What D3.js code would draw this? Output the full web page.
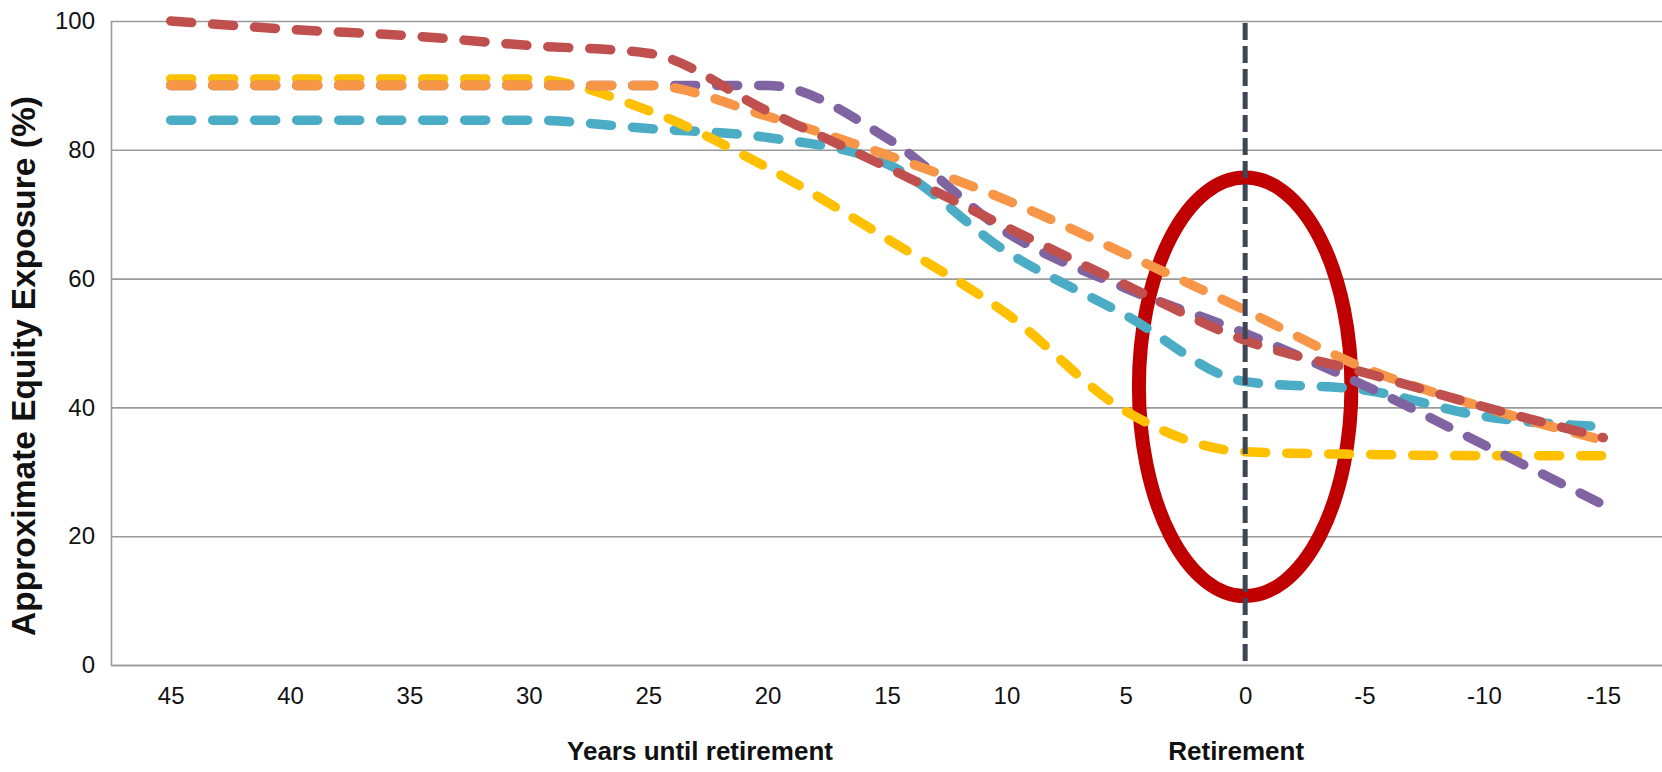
<!DOCTYPE html>
<html>
<head>
<meta charset="utf-8">
<script src="https://cdn.jsdelivr.net/npm/d3@7"></script>
<style>
  body { margin: 0; background: #fff; }
  svg { display: block; font-family: "Liberation Sans", Arial, sans-serif; }
</style>
</head>
<body>
<div class="graph"></div>
<script>
/*---------- DATA ----------*/

//years until retirement (category axis)
const years = ["45", "40", "35", "30", "25", "20", "15", "10", "5", "0", "-5", "-10", "-15"];

//approximate equity exposure (%) per glide path
const tealVals   = [84.6, 84.6, 84.6, 84.6, 83.3, 81.9, 77.8, 64.2, 54.3, 44.0, 42.7, 38.6, 37.0];
const yellowVals = [91.0, 91.0, 91.0, 91.0, 86.1, 77.2, 66.2, 54.6, 39.4, 33.1, 32.7, 32.5, 32.5];
const purpleVals = [90.0, 90.0, 90.0, 90.0, 90.0, 90.0, 81.8, 67.2, 58.5, 51.5, 43.4, 34.2, 24.9];
const orangeVals = [90.0, 90.0, 90.0, 90.0, 90.0, 85.2, 79.2, 72.2, 63.8, 55.1, 46.1, 40.0, 34.9];
const redVals    = [100.0, 98.7, 97.7, 96.2, 95.0, 86.0, 77.3, 68.0, 59.0, 50.4, 45.4, 40.1, 35.3];

const yTicks = [0, 20, 40, 60, 80, 100];

//drawing order: last one ends on top
const seriesList = [
    {name: "teal",   color: "#4BACC6", values: tealVals},
    {name: "yellow", color: "#FFC000", values: yellowVals},
    {name: "purple", color: "#8064A2", values: purpleVals},
    {name: "orange", color: "#F79646", values: orangeVals},
    {name: "red",    color: "#C0504D", values: redVals}
];

//retirement marker and highlight ellipse (in data units)
const retireYear = "0";
const ellipse = {center: 43.2, halfHeight: 32.5, halfWidthSteps: 0.89};

/*---------- D3 STUFF ----------*/

const SIZE = {X: 1662, Y: 772};
const MARGIN = {TOP: 21, BOTTOM: 107, LEFT: 111, RIGHT: -1};
const DIM = {WIDTH: SIZE.X - MARGIN.LEFT - MARGIN.RIGHT,
             HEIGHT: SIZE.Y - MARGIN.TOP - MARGIN.BOTTOM};

const svg = d3.select(".graph").append("svg")
    .attr("width", SIZE.X)
    .attr("height", SIZE.Y);

svg.append("rect")
    .attr("width", SIZE.X)
    .attr("height", SIZE.Y)
    .attr("fill", "#fff");

const graph = svg.append("g")
    .attr("transform", `translate(${MARGIN.LEFT}, ${MARGIN.TOP})`);

//scales
const x = d3.scalePoint()
    .domain(years)
    .range([0, DIM.WIDTH])
    .padding(0.5);

const y = d3.scaleLinear()
    .domain([0, 100])
    .range([DIM.HEIGHT, 0]);

//y axis with gridlines
const yAxis = graph.append("g")
    .attr("class", "y axis")
    .call(d3.axisLeft(y)
        .tickValues(yTicks)
        .tickSizeInner(-DIM.WIDTH)
        .tickSizeOuter(0)
        .tickPadding(16));

yAxis.selectAll(".tick line")
    .attr("stroke", "#9a9a9a")
    .attr("stroke-width", 1.6);
yAxis.select(".domain")
    .attr("stroke", "#9a9a9a")
    .attr("stroke-width", 1.6);
yAxis.selectAll(".tick text")
    .attr("fill", "#111")
    .style("font-size", "24px");

//x axis
const xAxis = graph.append("g")
    .attr("class", "x axis")
    .attr("transform", `translate(0, ${DIM.HEIGHT})`)
    .call(d3.axisBottom(x)
        .tickSizeInner(0)
        .tickSizeOuter(0)
        .tickPadding(22));

xAxis.select(".domain")
    .attr("stroke", "#9a9a9a")
    .attr("stroke-width", 1.6);
xAxis.selectAll(".tick text")
    .attr("fill", "#111")
    .style("font-size", "24px");

//highlight ellipse around retirement
graph.append("ellipse")
    .attr("cx", x(retireYear))
    .attr("cy", y(ellipse.center))
    .attr("rx", x.step() * ellipse.halfWidthSteps)
    .attr("ry", y(ellipse.center - ellipse.halfHeight) - y(ellipse.center))
    .attr("fill", "none")
    .attr("stroke", "#C00000")
    .attr("stroke-width", 14);

//glide path lines
const line = d3.line()
    .x((d, i) => x(years[i]))
    .y(d => y(d))
    .curve(d3.curveMonotoneX);

graph.selectAll(".series")
    .data(seriesList)
    .enter().append("path")
    .attr("class", "series")
    .attr("d", d => line(d.values))
    .attr("fill", "none")
    .attr("stroke", d => d.color)
    .attr("stroke-width", 9.5)
    .attr("stroke-linecap", "round")
    .attr("stroke-dasharray", "21 21");

//retirement line
graph.append("line")
    .attr("x1", x(retireYear))
    .attr("x2", x(retireYear))
    .attr("y1", y(100) + 2)
    .attr("y2", y(0))
    .attr("stroke", "#3d4652")
    .attr("stroke-width", 5)
    .attr("stroke-dasharray", "17 6");

//axis titles
svg.append("text")
    .attr("transform", `translate(35, 366) rotate(-90)`)
    .attr("text-anchor", "middle")
    .style("font-size", "33.5px")
    .style("font-weight", "bold")
    .attr("fill", "#111")
    .text("Approximate Equity Exposure (%)");

svg.append("text")
    .attr("x", 700)
    .attr("y", 760)
    .attr("text-anchor", "middle")
    .style("font-size", "26px")
    .style("font-weight", "bold")
    .attr("fill", "#111")
    .text("Years until retirement");

svg.append("text")
    .attr("x", MARGIN.LEFT + x(retireYear) - 9)
    .attr("y", 760)
    .attr("text-anchor", "middle")
    .style("font-size", "26px")
    .style("font-weight", "bold")
    .attr("fill", "#111")
    .text("Retirement");
</script>
</body>
</html>
